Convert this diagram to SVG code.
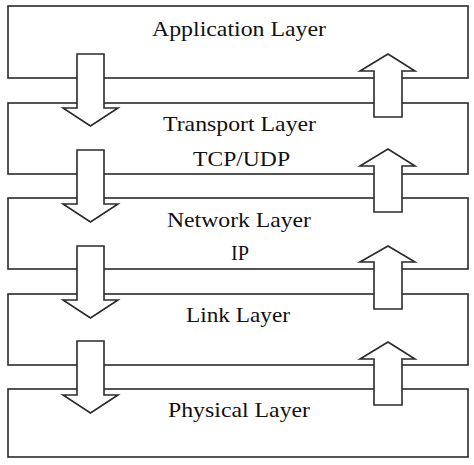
<svg xmlns="http://www.w3.org/2000/svg" width="474" height="465" viewBox="0 0 474 465">
<style>
.box{fill:#fff;stroke:#2a2a2a;stroke-width:1.6}
.arr{fill:#fff;stroke:#2a2a2a;stroke-width:1.6;stroke-linejoin:miter}
.lbl{font-family:"Liberation Serif","Times New Roman",serif;font-size:21px;fill:#111}
</style>
<rect width="474" height="465" fill="#fff"/>
<g id="application">
<rect class="box" x="8" y="6" width="460" height="72"/>
<text class="lbl" x="152" y="36" textLength="174" lengthAdjust="spacingAndGlyphs">Application Layer</text>
</g>
<g id="transport">
<rect class="box" x="8" y="103" width="460" height="71"/>
<text class="lbl" x="163" y="131" textLength="153" lengthAdjust="spacingAndGlyphs">Transport Layer</text>
<text class="lbl" x="193" y="166" textLength="97" lengthAdjust="spacingAndGlyphs">TCP/UDP</text>
</g>
<g id="network">
<rect class="box" x="8" y="198" width="460" height="71"/>
<text class="lbl" x="167" y="227" textLength="144" lengthAdjust="spacingAndGlyphs">Network Layer</text>
<text class="lbl" x="231" y="260" textLength="18" lengthAdjust="spacingAndGlyphs">IP</text>
</g>
<g id="link">
<rect class="box" x="8" y="294" width="460" height="71"/>
<text class="lbl" x="186" y="322" textLength="104" lengthAdjust="spacingAndGlyphs">Link Layer</text>
</g>
<g id="physical">
<rect class="box" x="8" y="389" width="460" height="68"/>
<text class="lbl" x="168" y="417" textLength="142" lengthAdjust="spacingAndGlyphs">Physical Layer</text>
</g>
<g id="connectors">
<path class="arr" d="M77,54 H104 V108 H118 L90.5,126 L63,108 H77 Z"/>
<path class="arr" d="M77,150 H104 V204 H118 L90.5,222 L63,204 H77 Z"/>
<path class="arr" d="M77,246 H104 V300 H118 L90.5,318 L63,300 H77 Z"/>
<path class="arr" d="M77,341 H104 V395 H118 L90.5,413 L63,395 H77 Z"/>
<path class="arr" d="M374,117 H402 V71 H415 L388,54 L360,71 H374 Z"/>
<path class="arr" d="M374,212 H402 V166 H415 L388,149 L360,166 H374 Z"/>
<path class="arr" d="M374,309 H402 V262 H415 L388,246 L360,262 H374 Z"/>
<path class="arr" d="M374,405 H402 V359 H415 L388,342 L360,359 H374 Z"/>
</g>
</svg>
